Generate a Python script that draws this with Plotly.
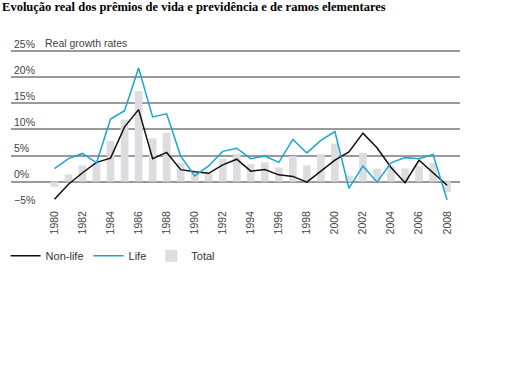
import plotly.graph_objects as go

years = list(range(1980, 2009))
total = [-1.0, 1.4, 3.1, 3.6, 7.8, 11.9, 17.4, 8.3, 9.4, 3.6, 1.6, 1.6, 4.4, 5.3,
         3.4, 3.7, 2.7, 4.9, 3.1, 5.3, 7.3, 1.2, 5.5, 2.5, 3.0, 2.5, 3.0, 3.6, -2.0]
non_life = [-3.4, -0.5, 1.7, 3.7, 4.5, 10.5, 13.8, 4.4, 5.6, 2.3, 1.9, 1.6, 3.2, 4.3,
            2.0, 2.3, 1.3, 1.0, -0.1, 2.0, 4.1, 5.7, 9.3, 6.5, 2.7, -0.2, 4.1, 1.7, -0.7]
life = [2.5, 4.4, 5.4, 3.6, 12.0, 13.6, 21.8, 12.4, 13.0, 4.9, 1.1, 3.0, 5.8, 6.4,
        4.4, 4.9, 3.7, 8.1, 5.5, 7.9, 9.6, -1.3, 3.0, -0.1, 3.6, 4.6, 4.4, 5.2, -3.5]
y_ticks = [-5, 0, 5, 10, 15, 20, 25]
y_tick_labels = ["\u22125%", "0%", "5%", "10%", "15%", "20%", "25%"]
x_ticks = list(range(1980, 2009, 2))

font = "Liberation Sans, Arial, sans-serif"

fig = go.Figure()
fig.add_trace(go.Bar(x=years, y=total, name="Total", marker_color="#DDDDE1",
                     marker_line_width=0, width=0.55, legendrank=3))
fig.add_trace(go.Scatter(x=years, y=non_life, name="Non-life", mode="lines",
                         line=dict(color="#111111", width=1.5), legendrank=1))
fig.add_trace(go.Scatter(x=years, y=life, name="Life", mode="lines",
                         line=dict(color="#1BA6CF", width=1.5), legendrank=2))

fig.update_layout(
    width=512, height=384,
    margin=dict(l=6, r=52, t=32.7, b=175.7),
    paper_bgcolor="white", plot_bgcolor="white",
    font=dict(family=font, size=10.5, color="#444444"),
    showlegend=True,
    legend=dict(orientation="h", x=-0.012, y=-0.19, xanchor="left", yanchor="top",
                traceorder="normal",
                font=dict(size=11, color="#333333")),
    xaxis=dict(range=[1976.9, 2008.92], tickmode="array", tickvals=x_ticks,
               ticktext=[str(v) for v in x_ticks], tickangle=-90,
               showgrid=False, zeroline=False, showline=False, automargin=False,
               tickfont=dict(size=10.5, color="#444444"), ticks=""),
    yaxis=dict(range=[-5.06, 28.5], tickmode="array", tickvals=y_ticks,
               ticktext=y_tick_labels, ticklabelposition="inside top",
               showgrid=True, gridcolor="#9A9A9A", gridwidth=1.5,
               zeroline=False, showline=False, automargin=False,
               tickfont=dict(size=10.5, color="#444444"), ticks=""),
    title=dict(text="<b>Evolução real dos prêmios de vida e previdência e de ramos elementares</b>",
               x=0.004, xanchor="left", y=0.995, yanchor="top",
               font=dict(family="Liberation Serif, Times New Roman, serif", size=12.5, color="#000000")),
    annotations=[dict(text="Real growth rates", xref="paper", yref="y",
                      x=0.071, y=25, xanchor="left", yanchor="bottom",
                      showarrow=False, font=dict(size=10.5, color="#444444"))],
)

fig.write_html("out.html", config={"displayModeBar": False},
               post_script="document.body.style.margin='0';")
